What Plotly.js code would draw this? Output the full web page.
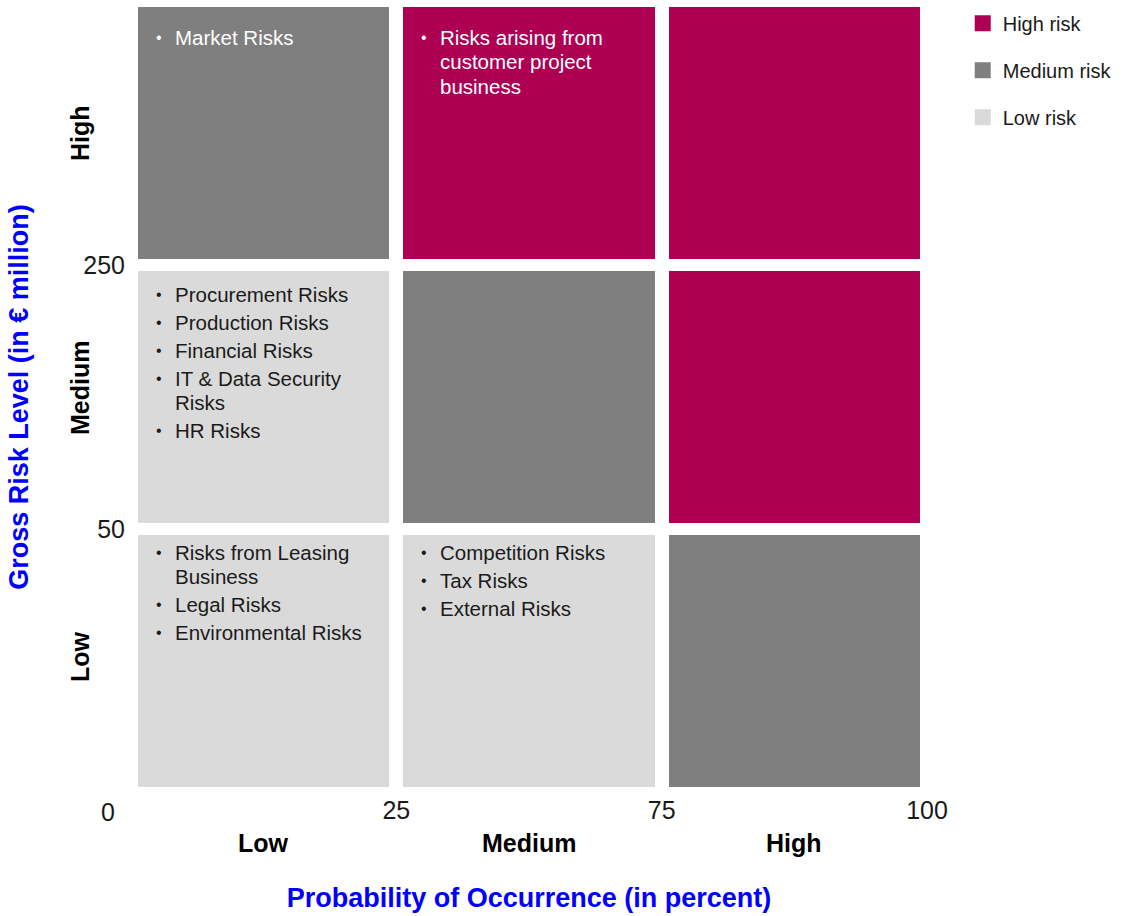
<!DOCTYPE html>
<html><head><meta charset="utf-8">
<script src="https://cdn.plot.ly/plotly-3.0.1.min.js"></script>
<style>html,body{margin:0;padding:0;background:#fff}</style>
</head><body><div id="chart" style="width:1126px;height:916px"></div>
<script>
// ---------- DATA ----------
const probabilityCategories = ['Low', 'Medium', 'High'];
const grossRiskCategories = ['Low', 'Medium', 'High'];
const probabilityTickLabels = ['0', '25', '75', '100'];
const grossRiskTickLabels = ['0', '50', '250'];
const riskLevelNames = ['Low risk', 'Medium risk', 'High risk'];
// risk level per cell (0 = low, 1 = medium, 2 = high); columns = probability Low, Medium, High
const riskLevelGrossLow = [0, 0, 1];
const riskLevelGrossMedium = [0, 1, 2];
const riskLevelGrossHigh = [1, 2, 2];
// risks listed per cell
const risksGrossLowProbLow = ['Risks from Leasing<br>Business', 'Legal Risks', 'Environmental Risks'];
const risksGrossLowProbMedium = ['Competition Risks', 'Tax Risks', 'External Risks'];
const risksGrossLowProbHigh = [];
const risksGrossMediumProbLow = ['Procurement Risks', 'Production Risks', 'Financial Risks', 'IT & Data Security<br>Risks', 'HR Risks'];
const risksGrossMediumProbMedium = [];
const risksGrossMediumProbHigh = [];
const risksGrossHighProbLow = ['Market Risks'];
const risksGrossHighProbMedium = ['Risks arising from<br>customer project<br>business'];
const risksGrossHighProbHigh = [];

// ---------- STYLE ----------
const FONT = 'Liberation Sans, Arial, sans-serif';
const levelColors = ['#DADADA', '#7F7F7F', '#AD0052'];
const levelTextColors = ['#1a1a1a', '#ffffff', '#ffffff'];
const XGAP = 14, YGAP = 12;
const rowTopPad = [17, 23, 30];
const wrapStep = 24.5, itemStep = 28;
const bulletIndent = 21, textIndent = 35;
const cellFontSize = 20.5;
const rowLabelShift = [-4, -9, 0];

const zMatrix = [riskLevelGrossLow, riskLevelGrossMedium, riskLevelGrossHigh];
const cellRisks = [
  [risksGrossLowProbLow, risksGrossLowProbMedium, risksGrossLowProbHigh],
  [risksGrossMediumProbLow, risksGrossMediumProbMedium, risksGrossMediumProbHigh],
  [risksGrossHighProbLow, risksGrossHighProbMedium, risksGrossHighProbHigh]
];
const centers = probabilityCategories.map((_, i) => i + 0.5);

const traces = [{
  type: 'heatmap',
  x: centers,
  y: grossRiskCategories.map((_, i) => i + 0.5),
  z: zMatrix,
  zmin: 0, zmax: 2,
  colorscale: [[0, levelColors[0]], [0.5, levelColors[1]], [1, levelColors[2]]],
  showscale: false,
  xgap: XGAP, ygap: YGAP,
  hoverinfo: 'skip',
  showlegend: false
}];
// legend entries (High, Medium, Low)
[2, 1, 0].forEach(lvl => {
  traces.push({
    type: 'scatter', mode: 'markers',
    x: [null], y: [null],
    name: riskLevelNames[lvl],
    legendgroup: 'g' + lvl,
    marker: {symbol: 'square', size: 16, color: levelColors[lvl]},
    hoverinfo: 'skip'
  });
});

const annotations = [];
// cell texts
cellRisks.forEach((row, r) => {
  row.forEach((items, c) => {
    const color = levelTextColors[zMatrix[r][c]];
    let offset = YGAP / 2 + rowTopPad[r];
    items.forEach(item => {
      const lines = item.split('<br>');
      annotations.push({
        xref: 'x', yref: 'y', x: c, y: r + 1,
        xanchor: 'center', yanchor: 'middle',
        xshift: XGAP / 2 + bulletIndent, yshift: -offset,
        text: '•', showarrow: false,
        font: {family: FONT, size: 16, color: color}
      });
      lines.forEach((line, j) => {
        annotations.push({
          xref: 'x', yref: 'y', x: c, y: r + 1,
          xanchor: 'left', yanchor: 'middle',
          xshift: XGAP / 2 + textIndent, yshift: -(offset + j * wrapStep),
          text: line, showarrow: false,
          font: {family: FONT, size: cellFontSize, color: color}
        });
      });
      offset += (lines.length - 1) * wrapStep + itemStep;
    });
  });
});
// category labels
probabilityCategories.forEach((cat, i) => {
  annotations.push({
    xref: 'x', yref: 'paper', x: i + 0.5, y: 0, yanchor: 'middle', yshift: -50,
    text: '<b>' + cat + '</b>', showarrow: false,
    font: {family: FONT, size: 25, color: '#000000'}
  });
});
grossRiskCategories.forEach((cat, i) => {
  annotations.push({
    xref: 'paper', yref: 'y', x: 0, y: i + 0.5, xanchor: 'center', xshift: -51,
    yshift: -rowLabelShift[i],
    text: '<b>' + cat + '</b>', textangle: -90, showarrow: false,
    font: {family: FONT, size: 25, color: '#000000'}
  });
});
// origin label
annotations.push({
  xref: 'paper', yref: 'paper', x: 0, y: 0, xanchor: 'center', yanchor: 'middle',
  xshift: -23, yshift: -19,
  text: probabilityTickLabels[0], showarrow: false,
  font: {family: FONT, size: 25, color: '#1a1a1a'}
});

const layout = {
  width: 1126, height: 916,
  margin: {l: 131, r: 199, t: 1, b: 123},
  paper_bgcolor: '#ffffff', plot_bgcolor: '#ffffff',
  font: {family: FONT, color: '#1a1a1a'},
  xaxis: {
    range: [0, 3], fixedrange: true,
    tickvals: [1, 2, 3], ticktext: probabilityTickLabels.slice(1),
    ticks: '', showgrid: false, zeroline: false, showline: false,
    tickfont: {family: FONT, size: 25, color: '#1a1a1a'},
    title: {text: '<b>Probability of Occurrence (in percent)</b>', standoff: 65,
            font: {family: FONT, size: 27, color: '#0000FF'}}
  },
  yaxis: {
    range: [0, 3], fixedrange: true,
    tickvals: [1, 2], ticktext: grossRiskTickLabels.slice(1),
    ticks: '', showgrid: false, zeroline: false, showline: false,
    ticklabelstandoff: 5,
    tickfont: {family: FONT, size: 25, color: '#1a1a1a'},
    title: {text: '<b>Gross Risk Level (in € million)</b>', standoff: 46,
            font: {family: FONT, size: 27, color: '#0000FF'}}
  },
  showlegend: true,
  legend: {
    xref: 'container', yref: 'container', x: 0.855, y: 0.996, xanchor: 'left', yanchor: 'top',
    traceorder: 'grouped', tracegroupgap: 18,
    font: {family: FONT, size: 20, color: '#1a1a1a'},
    bgcolor: 'rgba(0,0,0,0)'
  },
  annotations: annotations
};

Plotly.newPlot('chart', traces, layout, {displayModeBar: false, staticPlot: true});
</script></body></html>
